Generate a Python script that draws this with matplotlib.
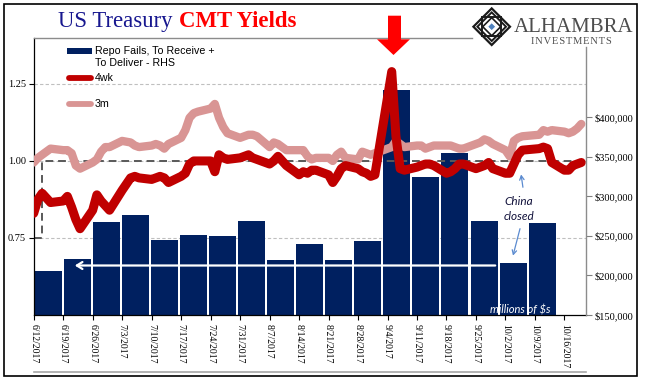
import matplotlib
matplotlib.use("Agg")
import matplotlib.pyplot as plt
import matplotlib.dates as mdates
from matplotlib.lines import Line2D
from matplotlib.patches import Rectangle, Polygon, FancyArrowPatch
from matplotlib.ticker import FixedLocator, FuncFormatter
import numpy as np
import pandas as pd

# ---------------- data ----------------
week_labels = ["6/12/2017", "6/19/2017", "6/26/2017", "7/3/2017", "7/10/2017",
               "7/17/2017", "7/24/2017", "7/31/2017", "8/7/2017", "8/14/2017",
               "8/21/2017", "8/28/2017", "9/4/2017", "9/11/2017", "9/18/2017",
               "9/25/2017", "10/2/2017", "10/9/2017", "10/16/2017"]
repo_fails = [205000, 221000, 267000, 276000, 245000, 251000, 250000, 269000,
              219000, 240000, 220000, 243000, 434000, 324000, 354000, 268500,
              216000, 266000]
holidays = ["2017-07-04", "2017-09-04", "2017-10-09"]
yield_4wk = [0.83, 0.875, 0.895, 0.88, 0.865,
             0.87, 0.885, 0.85, 0.81, 0.78,
             0.84, 0.89, 0.87, 0.855, 0.84,
             0.905, 0.945, 0.95, 0.945,
             0.94, 0.945, 0.95, 0.945, 0.93,
             0.95, 0.96, 0.99, 1.00, 1.00,
             1.00, 0.965, 1.02, 1.01, 1.005,
             1.01, 1.015, 1.02, 1.01, 1.005,
             0.99, 1.00, 1.015, 1.00, 0.985,
             0.955, 0.965, 0.96, 0.97, 0.97,
             0.955, 0.93, 0.95, 0.975, 0.985,
             0.975, 0.965, 0.96, 0.95, 0.955,
             1.29, 1.08, 0.975, 0.97,
             0.98, 0.985, 0.99, 0.99, 0.985,
             0.96, 0.965, 0.975, 0.99, 0.99,
             0.975, 0.98, 0.985, 0.995, 0.975,
             0.96, 0.96, 0.99, 1.02, 1.035,
             1.04, 1.045, 1.04, 0.995,
             0.97, 0.97, 0.985, 0.99, 0.995]
yield_3m = [0.995, 1.01, 1.02, 1.03, 1.04,
            1.035, 1.035, 1.025, 0.985, 0.975,
            0.995, 1.005, 1.03, 1.045, 1.045,
            1.065, 1.06, 1.05, 1.045,
            1.05, 1.055, 1.05, 1.04, 1.055,
            1.075, 1.10, 1.14, 1.155, 1.16,
            1.17, 1.185, 1.14, 1.11, 1.09,
            1.075, 1.08, 1.085, 1.085, 1.08,
            1.045, 1.06, 1.055, 1.045, 1.035,
            1.035, 1.035, 1.015, 1.005, 1.01,
            1.01, 1.00, 1.02, 1.03, 1.01,
            1.005, 1.03, 1.025, 1.02, 1.025,
            1.045, 1.065, 1.055, 1.045,
            1.05, 1.05, 1.04, 1.045, 1.05,
            1.05, 1.05, 1.045, 1.04, 1.04,
            1.055, 1.06, 1.07, 1.065, 1.055,
            1.035, 1.015, 1.065, 1.075, 1.08,
            1.085, 1.10, 1.095, 1.10,
            1.095, 1.09, 1.095, 1.105, 1.12]
rrp_dates = ["2017-06-12", "2017-06-14", "2017-10-21"]
rrp_rate = [0.75, 1.00, 1.00]
left_ticks = [0.75, 1.00, 1.25]
right_ticks = [150000, 200000, 250000, 300000, 350000, 400000]

# ---------------- colours / fonts ----------------
NAVY = "#002060"
RED = "#C00000"
PINK = "#D99594"
SERIF = "Liberation Serif"
SANS = "Liberation Sans"
TOP = 10

W, H = 645, 381
fig = plt.figure(figsize=(W / 100, H / 100), dpi=100)
fig.patch.set_facecolor("white")


def fx(x):
    return x / W


def fy(y):
    return 1 - y / H


L, R, T, B = 33.7, 585.7, 37.7, 315.0
rect = [fx(L), fy(B), fx(R) - fx(L), fy(T) - fy(B)]

day_dates = pd.bdate_range("2017-06-12", "2017-10-20").drop(pd.to_datetime(holidays))
tick_dates = pd.to_datetime(week_labels)
x0 = mdates.date2num(pd.Timestamp("2017-06-12"))
xlim = (x0, x0 + 131.05)

# grid axes (bottom layer)
axg = fig.add_axes(rect, zorder=1)
axg.set_xlim(xlim)
axg.set_ylim(0.5, 1.4)
for v in left_ticks:
    axg.axhline(v, color="#BFBFBF", lw=0.8, ls=(0, (3, 2)))
axg.set_xticks([])
axg.set_yticks([])
for s in axg.spines.values():
    s.set_visible(False)

# bar axes (right axis)
axb = fig.add_axes(rect, zorder=2)
axb.patch.set_visible(False)
idx = np.arange(len(repo_fails))
axb.bar(idx, repo_fails, width=0.93, color=NAVY, linewidth=0)
axb.set_xlim(-0.5, len(week_labels) - 0.5)
axb.set_ylim(150000, 500000)
axb.yaxis.tick_right()
axb.yaxis.set_major_locator(FixedLocator(right_ticks))
axb.yaxis.set_major_formatter(FuncFormatter(lambda v, p: "${:,.0f}".format(v)))
axb.tick_params(axis="y", which="both", right=True, left=False, length=4.5,
                width=0.8, color="#808080", pad=2, labelsize=7.5)
for lab in axb.get_yticklabels():
    lab.set_fontfamily(SERIF)
axb.set_xticks([])
for s in axb.spines.values():
    s.set_visible(False)

# line axes (left axis, date x)
ax = fig.add_axes(rect, zorder=3)
ax.patch.set_visible(False)
ax.plot(pd.to_datetime(rrp_dates), rrp_rate, drawstyle="steps-post",
        color="#595959", lw=1.4, ls=(0, (4, 2.5)), zorder=2)
ax.plot(day_dates, yield_3m, color=PINK, lw=6.0, solid_joinstyle="round",
        solid_capstyle="round", zorder=3)
ax.plot(day_dates, yield_4wk, color=RED, lw=6.5, solid_joinstyle="round",
        solid_capstyle="round", zorder=4)
ax.set_xlim(xlim)
ax.set_ylim(0.5, 1.4)
ax.yaxis.set_major_locator(FixedLocator(left_ticks))
ax.yaxis.set_major_formatter(FuncFormatter(lambda v, p: "%.2f" % v))
ax.set_xticks(tick_dates)
ax.set_xticklabels(week_labels, rotation=270, fontfamily=SERIF, fontsize=7,
                   va="top", ha="center")
ax.tick_params(axis="x", length=3.3, width=0.8, color="black", pad=3)
ax.tick_params(axis="y", length=3.5, width=0.8, color="black", pad=2, labelsize=7.5)
for lab in ax.get_yticklabels():
    lab.set_fontfamily(SERIF)
ax.spines["top"].set_visible(False)
ax.spines["right"].set_visible(False)
ax.spines["left"].set_linewidth(0.9)
ax.spines["bottom"].set_linewidth(0.9)

# --------- figure-level decorations ---------
def fline(xs, ys, **kw):
    fig.add_artist(Line2D([fx(x) for x in xs], [fy(y) for y in ys],
                          transform=fig.transFigure, zorder=TOP, **kw))

fline([L, 472], [T, T], color="#8C8C8C", lw=1.0)
fline([R, R], [47, B], color="#8C8C8C", lw=1.0)
fline([L, R], [371.7, 371.7], color="#A6A6A6", lw=1.2)
fig.add_artist(Rectangle((fx(4), fy(376)), fx(637) - fx(4), fy(4) - fy(376),
                         transform=fig.transFigure, fill=False,
                         edgecolor="black", lw=1.2, zorder=TOP))

# title
fig.text(fx(58), fy(27), "US Treasury ", fontfamily=SERIF, fontsize=16.4,
         color="#17178F", va="baseline", ha="left", zorder=TOP)
fig.text(fx(179), fy(27), "CMT Yields", fontfamily=SERIF, fontsize=16.4,
         fontweight="bold", color="#FF0000", va="baseline", ha="left", zorder=TOP)

# red arrow
arrow_pts = [(388, 15.7), (401, 15.7), (401, 39.3), (410, 39.3), (393.5, 55),
             (377, 39.3), (388, 39.3)]
fig.add_artist(Polygon([(fx(a), fy(b)) for a, b in arrow_pts], closed=True,
                       transform=fig.transFigure, facecolor="#FF0000",
                       edgecolor="none", zorder=TOP))

# logo
cx, cy, hs = 491.7, 26.7, 18.3
def diamond(h, **kw):
    pts = [(cx, cy - h), (cx + h, cy), (cx, cy + h), (cx - h, cy)]
    fig.add_artist(Polygon([(fx(a), fy(b)) for a, b in pts], closed=True,
                           transform=fig.transFigure, zorder=TOP, **kw))
def square(h, **kw):
    pts = [(cx - h, cy - h), (cx + h, cy - h), (cx + h, cy + h), (cx - h, cy + h)]
    fig.add_artist(Polygon([(fx(a), fy(b)) for a, b in pts], closed=True,
                           transform=fig.transFigure, zorder=TOP, **kw))
diamond(hs, fill=False, edgecolor="#1a1a1a", lw=1.6)
diamond(hs - 4, fill=False, edgecolor="#1a1a1a", lw=1.4)
square(9.5, fill=False, edgecolor="#1a1a1a", lw=1.4)
diamond(9, fill=False, edgecolor="#1a1a1a", lw=1.2)
diamond(4.2, facecolor="#4F81BD", edgecolor="white", lw=0.8)
fig.text(fx(574), fy(31.7), "ALHAMBRA", fontfamily=SERIF, fontsize=15,
         color="#4D4D4D", ha="center", va="baseline", zorder=TOP)
fig.text(fx(571), fy(43.5), "\u200a".join("INVESTMENTS"),
         fontfamily=SERIF, fontsize=7.5, color="#4D4D4D", ha="center",
         va="baseline", zorder=TOP)

# legend (manual)
fig.add_artist(Rectangle((fx(66.7), fy(53.8)), fx(92.3) - fx(66.7),
                         fy(48.3) - fy(53.8), transform=fig.transFigure,
                         facecolor=NAVY, edgecolor="none", zorder=TOP))
fig.text(fx(95), fy(51), "Repo Fails, To Receive +", fontfamily=SANS,
         fontsize=7.7, va="center", ha="left", zorder=TOP)
fig.text(fx(95), fy(63.3), "To Deliver - RHS", fontfamily=SANS,
         fontsize=7.7, va="center", ha="left", zorder=TOP)
fline([68.5, 90.5], [78.3, 78.3], color=RED, lw=4.2, solid_capstyle="round")
fig.text(fx(95), fy(78.3), "4wk", fontfamily=SANS, fontsize=7.7,
         va="center", ha="left", zorder=TOP)
fline([68.5, 90.5], [104.3, 104.3], color=PINK, lw=4.2, solid_capstyle="round")
fig.text(fx(95), fy(104.3), "3m", fontfamily=SANS, fontsize=7.7,
         va="center", ha="left", zorder=TOP)

# annotations
fig.text(fx(519), fy(201.7), "China", fontfamily="Lato", style="italic",
         fontsize=8.5, color="#10103A", ha="center", va="center", zorder=TOP)
fig.text(fx(519.5), fy(216), "closed", fontfamily="Lato", style="italic",
         fontsize=8.5, color="#10103A", ha="center", va="center", zorder=TOP)
fig.add_artist(FancyArrowPatch(
    (fx(523.3), fy(190)), (fx(520.7), fy(171.7)), transform=fig.transFigure,
    arrowstyle="->,head_length=3,head_width=1.6", color="#5B8BD0", lw=0.9,
    zorder=TOP))
fig.add_artist(FancyArrowPatch(
    (fx(520.7), fy(226)), (fx(512.3), fy(258.3)), transform=fig.transFigure,
    arrowstyle="->,head_length=3,head_width=1.6", color="#5B8BD0", lw=0.9,
    zorder=TOP))
fig.add_artist(FancyArrowPatch(
    (fx(498), fy(265.5)), (fx(72), fy(265.5)), transform=fig.transFigure,
    arrowstyle="->,head_length=4,head_width=2.5", color="white", lw=1.6,
    zorder=TOP))
fig.text(fx(520), fy(310), "millions of $s", fontfamily="Lato", style="italic",
         fontsize=8, color="white", ha="center", va="center", zorder=TOP)

fig.savefig("out.png", dpi=100)
